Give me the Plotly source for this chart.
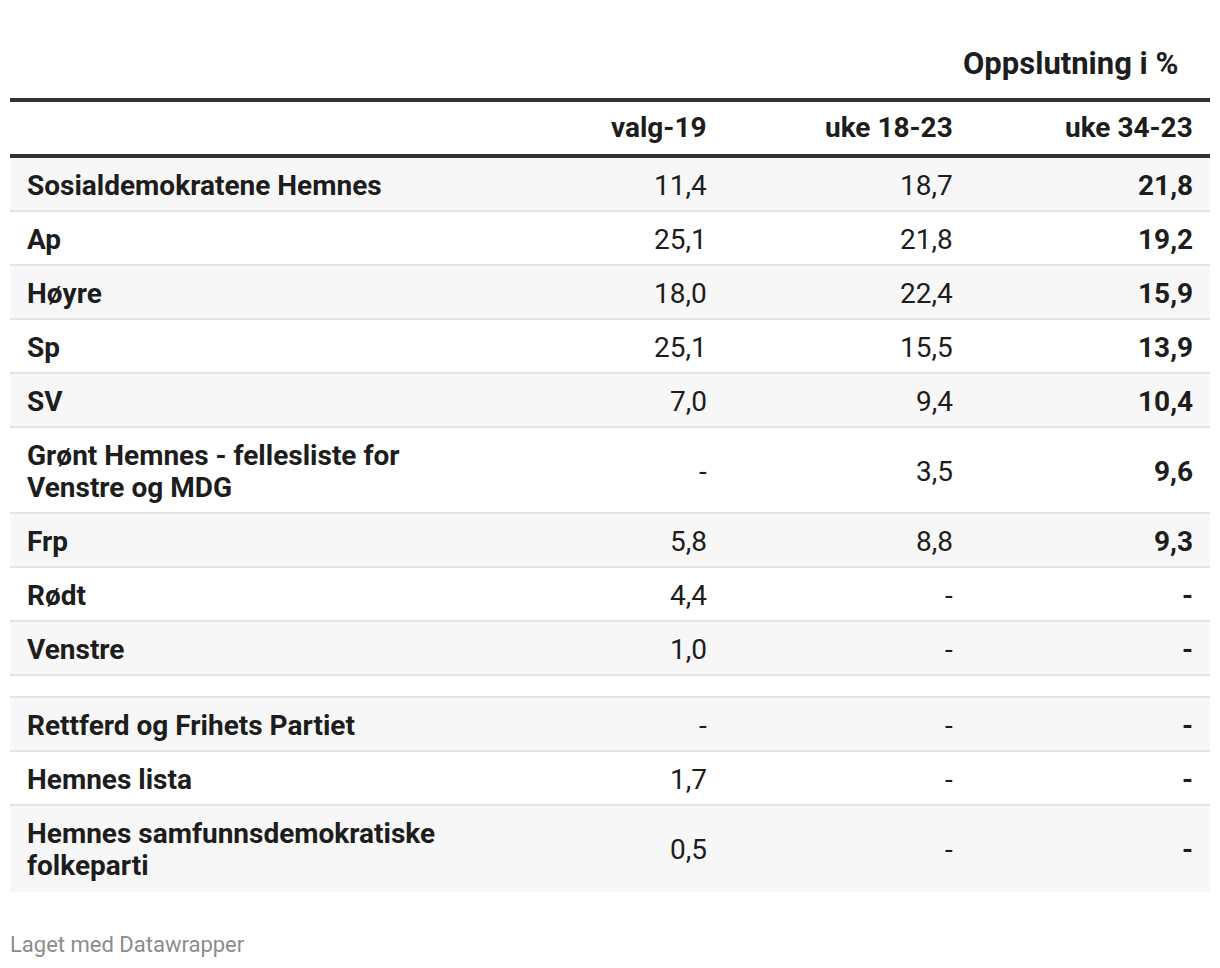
import plotly.graph_objects as go

# ---- data ----
title = "Oppslutning i %"
columns = ["valg-19", "uke 18-23", "uke 34-23"]
parties = [
    "Sosialdemokratene Hemnes", "Ap", "Høyre", "Sp", "SV",
    "Grønt Hemnes - fellesliste for<br>Venstre og MDG",
    "Frp", "Rødt", "Venstre", "",
    "Rettferd og Frihets Partiet", "Hemnes lista",
    "Hemnes samfunnsdemokratiske<br>folkeparti",
]
valg19 = [11.4, 25.1, 18.0, 25.1, 7.0, None, 5.8, 4.4, 1.0, "", None, 1.7, 0.5]
uke18_23 = [18.7, 21.8, 22.4, 15.5, 9.4, 3.5, 8.8, None, None, "", None, None, None]
uke34_23 = [21.8, 19.2, 15.9, 13.9, 10.4, 9.6, 9.3, None, None, "", None, None, None]
footer = "Laget med Datawrapper"

# ---- styling ----
W, H = 1220, 968
FONT = "Roboto"
TXT = "#1d1d1d"
LEFT, RIGHT = 10, 1210
col_right = [709, 955, 1195]
label_x = 25
row_start = 158
base_h, extra_line, empty_h = 54, 32, 22
stripe = "#f7f7f7"
border = "#e5e5e5"
FS = 28
DY = 1.5

def fmt(v):
    if v is None:
        return "-"
    if v == "":
        return ""
    return f"{v:.1f}".replace(".", ",")

shapes = []
ann = []

def text(x, y, t, anchor, size=FS, color=TXT):
    ann.append(dict(x=x, y=y, text=t, xanchor=anchor, yanchor="middle", align=anchor,
                    showarrow=False, font=dict(family=FONT, size=size, color=color)))

# title
text(1180, 63, f"<b>{title}</b>", "right", size=31)
# thick lines
shapes.append(dict(type="rect", x0=LEFT, x1=RIGHT, y0=98, y1=102, fillcolor="#333333", line=dict(width=0), layer="above"))
shapes.append(dict(type="rect", x0=LEFT, x1=RIGHT, y0=154, y1=158, fillcolor="#333333", line=dict(width=0), layer="above"))
# header
for c, xr in zip(columns, col_right):
    text(xr, 127, f"<b>{c}</b>", "right")

y = row_start
n = len(parties)
for i, (p, a, b, c) in enumerate(zip(parties, valg19, uke18_23, uke34_23)):
    lines = p.split("<br>") if p else []
    h = empty_h if not p else base_h + extra_line * (len(lines) - 1)
    y0, y1 = y, y + h
    if i % 2 == 0:
        shapes.append(dict(type="rect", x0=LEFT, x1=RIGHT, y0=y0, y1=y1 - (2 if i < n - 1 else 0),
                           fillcolor=stripe, line=dict(width=0), layer="below"))
    if i < n - 1:
        shapes.append(dict(type="rect", x0=LEFT, x1=RIGHT, y0=y1 - 2, y1=y1,
                           fillcolor=border, line=dict(width=0), layer="below"))
    yc = (y0 + y1 - 2) / 2 + DY
    if p:
        for k, ln in enumerate(lines):
            ly = yc + (k - (len(lines) - 1) / 2) * extra_line
            text(label_x, ly, f"<b>{ln}</b>", "left")
        for j, (v, xr) in enumerate(zip((a, b, c), col_right)):
            t = fmt(v)
            if j == 2:
                t = f"<b>{t}</b>"
            text(xr, yc, t, "right")
    y = y1

text(LEFT - 2, 944, footer, "left", size=22, color="#8c8c8c")

fig = go.Figure()
fig.update_layout(
    width=W, height=H, margin=dict(l=0, r=0, t=0, b=0),
    paper_bgcolor="white", plot_bgcolor="white",
    xaxis=dict(range=[0, W], visible=False, fixedrange=True),
    yaxis=dict(range=[H, 0], visible=False, fixedrange=True),
    shapes=shapes, annotations=ann, showlegend=False,
)
fig.write_html("out.html", post_script="document.body.style.margin='0';",
               config={"displayModeBar": False})
